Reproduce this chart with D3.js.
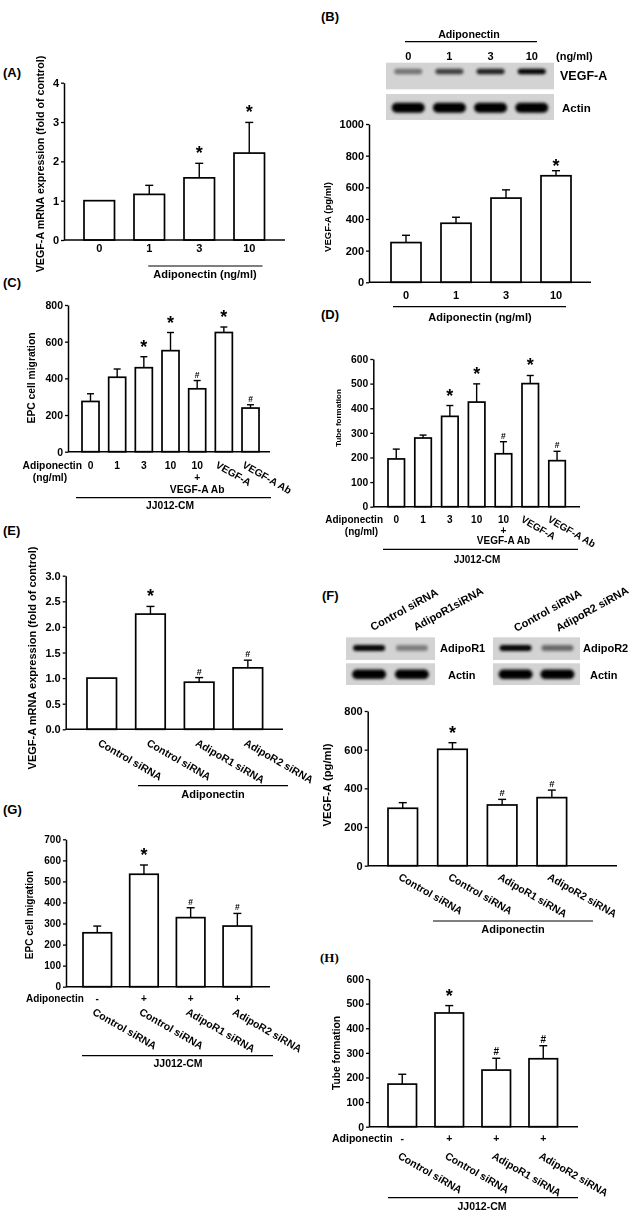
<!DOCTYPE html>
<html><head><meta charset="utf-8">
<script src="https://cdn.jsdelivr.net/npm/d3@7"></script>
<style>body{margin:0;background:#fff}</style>
</head><body>
<script>
// ---------------- DATA ----------------
// Panel A: VEGF-A mRNA (fold of control)
const aCats = ["0", "1", "3", "10"];
const aMean = [1.00, 1.16, 1.58, 2.21];
const aErr  = [0, 0.23, 0.37, 0.78];
const aSig  = ["", "", "*", "*"];
const aTicks = [0, 1, 2, 3, 4];
// Panel B: VEGF-A (pg/ml)
const bCats = ["0", "1", "3", "10"];
const bMean = [251, 373, 532, 673];
const bErr  = [46, 38, 52, 32];
const bSig  = ["", "", "", "*"];
const bTicks = [0, 200, 400, 600, 800, 1000];
const bBandVEGF  = [0.45, 0.7, 0.85, 1.0];
const bBandActin = [1, 1, 1, 1];
// Panel C: EPC cell migration
const cCats = ["0", "1", "3", "10", "10 + VEGF-A Ab", "VEGF-A", "VEGF-A Ab"];
const cMean = [274, 406, 458, 551, 343, 650, 238];
const cErr  = [42, 45, 60, 99, 45, 30, 18];
const cSig  = ["", "", "*", "*", "#", "*", "#"];
const cTicks = [0, 200, 400, 600, 800];
// Panel D: Tube formation
const dCats = ["0", "1", "3", "10", "10 + VEGF-A Ab", "VEGF-A", "VEGF-A Ab"];
const dMean = [194, 279, 367, 425, 215, 500, 187];
const dErr  = [40, 12, 44, 74, 49, 33, 38];
const dSig  = ["", "", "*", "*", "#", "*", "#"];
const dTicks = [0, 100, 200, 300, 400, 500, 600];
// Panel E: VEGF-A mRNA, siRNA
const eCats = ["Control siRNA", "Control siRNA", "AdipoR1 siRNA", "AdipoR2 siRNA"];
const eMean = [1.00, 2.25, 0.92, 1.20];
const eErr  = [0, 0.15, 0.09, 0.15];
const eSig  = ["", "*", "#", "#"];
const eTicks = [0, 0.5, 1.0, 1.5, 2.0, 2.5, 3.0];
// Panel F: VEGF-A (pg/ml), siRNA
const fCats = ["Control siRNA", "Control siRNA", "AdipoR1 siRNA", "AdipoR2 siRNA"];
const fMean = [297, 602, 314, 352];
const fErr  = [29, 34, 29, 39];
const fSig  = ["", "*", "#", "#"];
const fTicks = [0, 200, 400, 600, 800];
const fLanes1 = ["Control siRNA", "AdipoR1siRNA"];
const fLanes2 = ["Control siRNA", "AdipoR2 siRNA"];
const fBandR1 = [1.0, 0.4];
const fBandR2 = [1.0, 0.5];
const fBandActin = [1, 1];
// Panel G: EPC cell migration, siRNA
const gCats = ["Control siRNA", "Control siRNA", "AdipoR1 siRNA", "AdipoR2 siRNA"];
const gAdipo = ["-", "+", "+", "+"];
const gMean = [256, 534, 328, 288];
const gErr  = [32, 44, 47, 60];
const gSig  = ["", "*", "#", "#"];
const gTicks = [0, 100, 200, 300, 400, 500, 600, 700];
// Panel H: Tube formation, siRNA
const hCats = ["Control siRNA", "Control siRNA", "AdipoR1 siRNA", "AdipoR2 siRNA"];
const hAdipo = ["-", "+", "+", "+"];
const hMean = [173, 462, 230, 276];
const hErr  = [40, 30, 48, 53];
const hSig  = ["", "*", "#", "#"];
const hTicks = [0, 100, 200, 300, 400, 500, 600];

// ---------------- DRAWING ----------------
const FONT = "'Liberation Sans', Arial, Helvetica, sans-serif";
const svg = d3.select("body").append("svg")
  .attr("width", 630).attr("height", 1225).style("display", "block")
  .attr("font-family", FONT).attr("font-weight", "bold");
svg.append("rect").attr("width", 630).attr("height", 1225).attr("fill", "#fff");
const defs = svg.append("defs");
defs.append("filter").attr("id", "blur").attr("x", "-50%").attr("y", "-150%")
  .attr("width", "200%").attr("height", "400%")
  .append("feGaussianBlur").attr("stdDeviation", 1.4);
defs.append("filter").attr("id", "soft").append("feGaussianBlur").attr("stdDeviation", 0.35);

function text(g, x, y, s, size, anchor = "middle", family = FONT) {
  return g.append("text").attr("x", x).attr("y", y).attr("font-size", size)
    .attr("text-anchor", anchor).attr("font-family", family).attr("fill", "#000").text(s);
}
function hline(g, x1, x2, y, w = 1.2) {
  g.append("line").attr("x1", x1).attr("x2", x2).attr("y1", y).attr("y2", y)
    .attr("stroke", "#000").attr("stroke-width", w);
}
function rotText(g, x, y, s, size, angle) {
  g.append("text").attr("transform", `translate(${x},${y}) rotate(${angle})`)
    .attr("font-size", size).attr("fill", "#000").text(s);
}

function barPanel(p) {
  const g = svg.append("g").attr("filter", "url(#soft)");
  const n = p.mean.length;
  const gap = p.step - p.barW;
  const x = d3.scaleBand().domain(d3.range(n))
    .range([p.left - gap / 2, p.left + n * p.step - gap / 2])
    .paddingInner(gap / p.step).paddingOuter(gap / p.step / 2);
  const y = d3.scaleLinear().domain([0, p.ticks[p.ticks.length - 1]]).range([p.y0, p.y1]);
  const cx = i => x(i) + x.bandwidth() / 2;
  // error bars
  p.mean.forEach((m, i) => {
    if (p.err[i] > 0) {
      g.append("line").attr("x1", cx(i)).attr("x2", cx(i)).attr("y1", y(m)).attr("y2", y(m + p.err[i]))
        .attr("stroke", "#000").attr("stroke-width", 1.4);
      g.append("line").attr("x1", cx(i) - p.cap).attr("x2", cx(i) + p.cap)
        .attr("y1", y(m + p.err[i])).attr("y2", y(m + p.err[i]))
        .attr("stroke", "#000").attr("stroke-width", 1.4);
    }
  });
  // bars
  g.selectAll("rect.bar").data(p.mean).join("rect").attr("class", "bar")
    .attr("x", (d, i) => x(i)).attr("y", d => y(d))
    .attr("width", x.bandwidth()).attr("height", d => y(0) - y(d))
    .attr("fill", "#fff").attr("stroke", "#000").attr("stroke-width", 1.7);
  // significance marks
  p.sig.forEach((s, i) => {
    if (!s) return;
    const top = y(p.mean[i] + p.err[i]);
    if (s === "*") text(g, cx(i), top - p.starGap, s, p.starSize);
    else text(g, cx(i), top - p.hashGap, s, p.hashSize);
  });
  // axes
  const ax = g.append("g").attr("transform", `translate(${p.ax},0)`)
    .call(d3.axisLeft(y).tickValues(p.ticks).tickSize(3).tickSizeOuter(0)
      .tickFormat(p.fmt || d3.format("d")));
  ax.select(".domain").attr("stroke-width", 1.5);
  ax.selectAll(".tick line").attr("stroke-width", 1.3);
  ax.selectAll(".tick text").attr("font-size", p.tickSize).attr("font-family", FONT)
    .attr("font-weight", "bold").attr("x", -5);
  hline(g, p.ax, p.xEnd, y(0), 1.5);
  // y label
  g.append("text").attr("transform", `translate(${p.ylx},${p.yly}) rotate(-90)`)
    .attr("text-anchor", "middle").attr("font-size", p.ylSize).attr("fill", "#000").text(p.ylabel);
  return { g, x, y, cx };
}

function blot(g, x0, x1, y0, y1, vals, bandY, bandH, bandW) {
  g.append("rect").attr("x", x0).attr("y", y0).attr("width", x1 - x0).attr("height", y1 - y0)
    .attr("fill", "#d3d3d3");
  const lanes = d3.scaleBand().domain(d3.range(vals.length)).range([x0, x1]).paddingOuter(0.04);
  vals.forEach((v, i) => {
    g.append("rect").attr("x", lanes(i) + lanes.bandwidth() / 2 - bandW / 2).attr("y", bandY - bandH / 2)
      .attr("width", bandW).attr("height", bandH).attr("rx", bandH / 2)
      .attr("fill", "#000").attr("opacity", v).attr("filter", "url(#blur)");
  });
  return lanes;
}

const L = svg.append("g");
// Panel letters
text(L, 3, 77, "(A)", 13, "start");
text(L, 321, 21, "(B)", 13, "start");
text(L, 3, 287, "(C)", 13, "start");
text(L, 321, 319, "(D)", 13, "start");
text(L, 3, 535, "(E)", 13, "start");
text(L, 322, 600, "(F)", 13, "start");
text(L, 3, 814, "(G)", 13, "start");
text(L, 320, 962, "(H)", 13, "start", "'Liberation Serif', 'Times New Roman', serif");

// ---- Panel A ----
const A = barPanel({ mean: aMean, err: aErr, sig: aSig, ticks: aTicks, left: 84, step: 50, barW: 30.5,
  y0: 240, y1: 82.7, ax: 64, xEnd: 285, cap: 4, starGap: 4, starSize: 18, hashGap: 3, hashSize: 9,
  tickSize: 11, ylabel: "VEGF-A  mRNA expression (fold of control)", ylx: 44, yly: 164, ylSize: 10.7 });
aCats.forEach((c, i) => text(A.g, A.cx(i), 251.5, c, 11));
hline(A.g, A.cx(1) - 1, A.x(3) + A.x.bandwidth() - 2, 266);
text(A.g, 205, 277.5, "Adiponectin (ng/ml)", 11);

// ---- Panel B ----
const Bb = svg.append("g").attr("filter", "url(#soft)");
text(Bb, 469, 38, "Adiponectin", 10.7);
hline(Bb, 405, 537, 41.7);
const laneB = blot(Bb, 386, 554, 62.7, 89.3, bBandVEGF, 71.5, 5.5, 28);
blot(Bb, 386, 554, 94, 120, bBandActin, 107.7, 10, 33);
bCats.forEach((c, i) => text(Bb, laneB(i) + laneB.bandwidth() / 2, 59.5, c, 11));
text(Bb, 556, 59.5, "(ng/ml)", 11, "start");
text(Bb, 560, 80, "VEGF-A", 12.5, "start");
text(Bb, 562, 112, "Actin", 11.5, "start");
const B = barPanel({ mean: bMean, err: bErr, sig: bSig, ticks: bTicks, left: 391, step: 50, barW: 30,
  y0: 282.3, y1: 124, ax: 369, xEnd: 591, cap: 4, starGap: -1, starSize: 18, hashGap: 3, hashSize: 9,
  tickSize: 11, ylabel: "VEGF-A (pg/ml)", ylx: 331, yly: 217, ylSize: 9.5 });
bCats.forEach((c, i) => text(B.g, B.cx(i), 298.5, c, 11));
hline(B.g, 393, 566, 306.7);
text(B.g, 480, 320.5, "Adiponectin (ng/ml)", 11);

// ---- Panel C / D ----
function comboLabels(P, cats, rowY, lineH, rotDx, xEnd, underX0, underY, jjX, jjY, adX, ngX, size) {
  cats.forEach((c, i) => {
    if (c.includes(" + ")) {
      const [a, b] = c.split(" + ");
      text(P.g, P.cx(i), rowY, a, size);
      text(P.g, P.cx(i), rowY + lineH, "+", size);
      text(P.g, P.cx(i), rowY + 2 * lineH, b, size);
    } else if (c.startsWith("VEGF")) {
      rotText(P.g, P.cx(i) + rotDx, rowY - 2, c, size, 30);
    } else {
      text(P.g, P.cx(i), rowY, c, size);
    }
  });
  text(P.g, adX, rowY, "Adiponectin", size, "end");
  text(P.g, ngX, rowY + 11.5, "(ng/ml)", size);
  hline(P.g, underX0, xEnd, underY);
  text(P.g, jjX, jjY, "JJ012-CM", size);
}
const C = barPanel({ mean: cMean, err: cErr, sig: cSig, ticks: cTicks, left: 82, step: 26.67, barW: 17,
  y0: 451.7, y1: 305, ax: 68, xEnd: 270, cap: 3.5, starGap: 4, starSize: 18, hashGap: 3, hashSize: 8.5,
  tickSize: 10.5, ylabel: "EPC cell migration", ylx: 35, yly: 378, ylSize: 10.3 });
comboLabels(C, cCats, 469, 11.8, -9, 271, 76, 497.7, 170, 509.3, 82, 50, 10.3);

const D = barPanel({ mean: dMean, err: dErr, sig: dSig, ticks: dTicks, left: 388, step: 26.8, barW: 16.5,
  y0: 506.7, y1: 359, ax: 373.3, xEnd: 580, cap: 3.5, starGap: 4, starSize: 18, hashGap: 3, hashSize: 8.5,
  tickSize: 10.3, ylabel: "Tube formation", ylx: 341, yly: 418, ylSize: 8 });
comboLabels(D, dCats, 523.3, 10.5, -10, 578, 383, 549.3, 477, 563.3, 383, 361.5, 10);

// ---- Panel E ----
const E = barPanel({ mean: eMean, err: eErr, sig: eSig, ticks: eTicks, left: 87, step: 48.7, barW: 29.5,
  y0: 729.3, y1: 575.7, ax: 65.7, xEnd: 283, cap: 4, starGap: 4, starSize: 18, hashGap: 3, hashSize: 9,
  tickSize: 11, fmt: d3.format(".1f"),
  ylabel: "VEGF-A mRNA expression (fold of control)", ylx: 36, yly: 658, ylSize: 11 });
eCats.forEach((c, i) => rotText(E.g, E.cx(i) - 4.5, 745, c, 10.5, 30));
hline(E.g, 138, 288, 785.7);
text(E.g, 213, 798.3, "Adiponectin", 11);

// ---- Panel F ----
const Fb = svg.append("g").attr("filter", "url(#soft)");
const lane1 = blot(Fb, 346, 435, 637.3, 660, fBandR1, 648, 6, 32);
blot(Fb, 346, 435, 663.3, 685, fBandActin, 674.3, 9.5, 34);
const lane2 = blot(Fb, 493, 580, 637.3, 660, fBandR2, 648, 6, 32);
blot(Fb, 493, 580, 663.3, 685, fBandActin, 674.3, 9.5, 34);
fLanes1.forEach((c, i) => rotText(Fb, lane1(i) + lane1.bandwidth() / 2 + 4, 631, c, 11, -29));
fLanes2.forEach((c, i) => rotText(Fb, lane2(i) + lane2.bandwidth() / 2 + 1, 632, c, 11, -29));
text(Fb, 440, 652, "AdipoR1", 11, "start");
text(Fb, 448, 678.5, "Actin", 11, "start");
text(Fb, 583, 652, "AdipoR2", 11, "start");
text(Fb, 590, 678.5, "Actin", 11, "start");
const F = barPanel({ mean: fMean, err: fErr, sig: fSig, ticks: fTicks, left: 388, step: 49.7, barW: 29.5,
  y0: 865.7, y1: 711, ax: 367.7, xEnd: 617, cap: 4, starGap: 4, starSize: 18, hashGap: 3, hashSize: 9.5,
  tickSize: 11, ylabel: "VEGF-A (pg/ml)", ylx: 331, yly: 785, ylSize: 11.3 });
fCats.forEach((c, i) => rotText(F.g, F.cx(i) - 5, 879, c, 10.5, 30));
hline(F.g, 433, 593, 921);
text(F.g, 513, 933.3, "Adiponectin", 11);

// ---- Panel G ----
const G = barPanel({ mean: gMean, err: gErr, sig: gSig, ticks: gTicks, left: 83, step: 46.7, barW: 28.5,
  y0: 986.7, y1: 839.3, ax: 66, xEnd: 270, cap: 4, starGap: 4, starSize: 18, hashGap: 3, hashSize: 8.5,
  tickSize: 10, ylabel: "EPC cell migration", ylx: 32.5, yly: 915, ylSize: 10 });
text(G.g, 26, 1001.5, "Adiponectin", 10, "start");
gAdipo.forEach((s, i) => text(G.g, G.cx(i), 1001.5, s, 10));
gCats.forEach((c, i) => rotText(G.g, G.cx(i) - 5.5, 1014, c, 10.5, 30));
hline(G.g, 82, 273, 1055.7);
text(G.g, 178, 1066.7, "JJ012-CM", 10.5);

// ---- Panel H ----
const Hp = barPanel({ mean: hMean, err: hErr, sig: hSig, ticks: hTicks, left: 388, step: 47, barW: 28.5,
  y0: 1126.7, y1: 979, ax: 369, xEnd: 578, cap: 4, starGap: 4, starSize: 18, hashGap: 3, hashSize: 10,
  tickSize: 10.5, ylabel: "Tube formation", ylx: 340, yly: 1053, ylSize: 10.3 });
text(Hp.g, 332, 1142.3, "Adiponectin", 10.5, "start");
hAdipo.forEach((s, i) => text(Hp.g, Hp.cx(i), 1142.3, s, 10.5));
hCats.forEach((c, i) => rotText(Hp.g, Hp.cx(i) - 5, 1158, c, 10.5, 30));
hline(Hp.g, 388, 578, 1197.7);
text(Hp.g, 482, 1209.5, "JJ012-CM", 10.5);
</script>
</body></html>
